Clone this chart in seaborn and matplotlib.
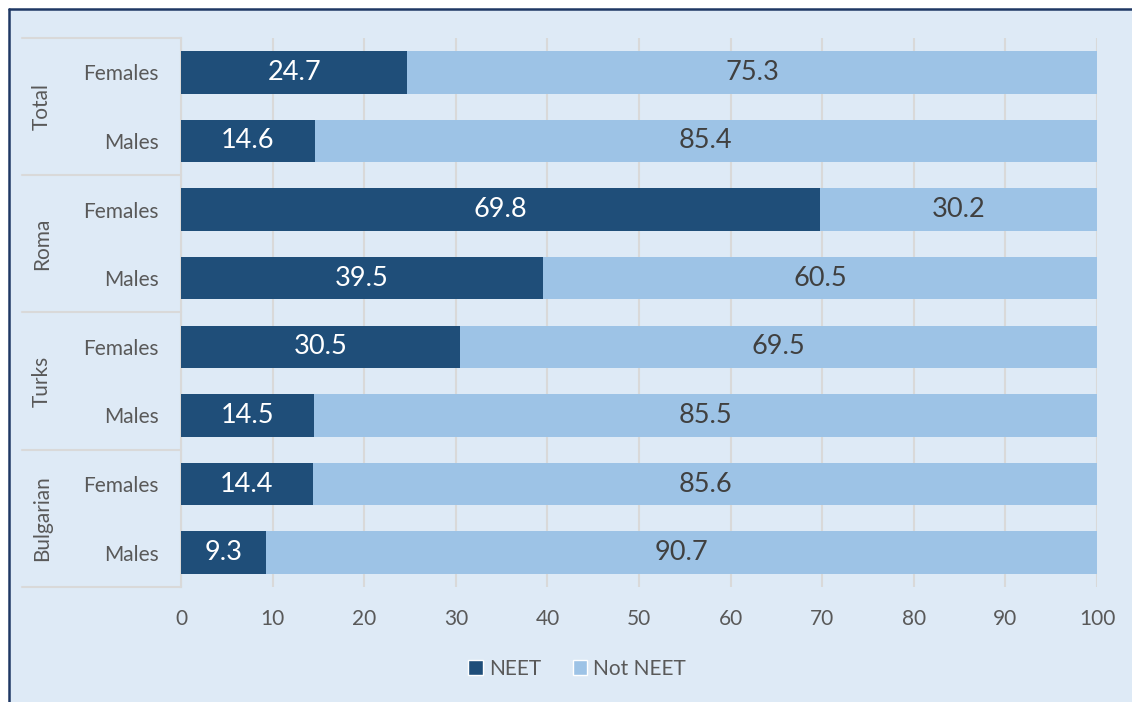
import matplotlib
matplotlib.use("Agg")
import matplotlib.pyplot as plt
import matplotlib.transforms as mtransforms
from matplotlib.patches import Patch, Rectangle
from matplotlib.lines import Line2D
import seaborn as sns
import pandas as pd

groups = ["Total", "Roma", "Turks", "Bulgarian"]
sexes = ["Females", "Males"]
neet = [24.7, 14.6, 69.8, 39.5, 30.5, 14.5, 14.4, 9.3]
not_neet = [75.3, 85.4, 30.2, 60.5, 69.5, 85.5, 85.6, 90.7]

rows = [f"{g} {s}" for g in groups for s in sexes]
df = pd.DataFrame({"row": rows, "NEET": neet, "Not NEET": not_neet})
df["total"] = df["NEET"] + df["Not NEET"]

BG = "#DEEAF6"
DARK = "#1F4E79"
LIGHT = "#9DC3E6"
GRAY = "#595959"
GRID = "#D9D9D9"
BORDER = "#1F3864"

sns.set_theme(style="white")
plt.rcParams["font.family"] = ["Lato", "DejaVu Sans"]

fig = plt.figure(figsize=(11.32, 7.02), dpi=100, facecolor="white")
x0 = 8.5 / 1132
y1 = 1 - 8.5 / 702
fig.patches.append(Rectangle((x0, 0), 1 - x0, y1, transform=fig.transFigure,
                             facecolor=BG, edgecolor="none", zorder=-10))
fig.lines.append(Line2D([x0, x0], [0, y1], transform=fig.transFigure,
                        color=BORDER, lw=1.8))
fig.lines.append(Line2D([x0, 1], [y1, y1], transform=fig.transFigure,
                        color=BORDER, lw=1.8))

ax = fig.add_axes([0.1599, 0.1638, 0.8092, 0.7821])
ax.set_facecolor(BG)

sns.barplot(data=df, y="row", x="total", order=rows, color=LIGHT, width=0.62,
            saturation=1, ax=ax, orient="h", zorder=2, linewidth=0)
sns.barplot(data=df, y="row", x="NEET", order=rows, color=DARK, width=0.62,
            saturation=1, ax=ax, orient="h", zorder=3, linewidth=0)

for i, (a, b) in enumerate(zip(df["NEET"], df["Not NEET"])):
    ax.text(a / 2, i, f"{a:.1f}", ha="center", va="center", color="white",
            fontsize=19.5, zorder=4)
    ax.text(a + b / 2, i, f"{b:.1f}", ha="center", va="center", color="#404040",
            fontsize=19.5, zorder=4)

ax.set_xlim(0, 100)
ax.set_ylim(7.5, -0.5)
ax.set_xticks(range(0, 101, 10))
ax.tick_params(axis="x", colors=GRAY, labelsize=15, length=0, pad=16)
ax.tick_params(axis="y", colors=GRAY, labelsize=15, length=0, pad=16)
ax.set_yticks(range(len(rows)))
ax.set_yticklabels([s for g in groups for s in sexes])
ax.set_xlabel("")
ax.set_ylabel("")
ax.grid(axis="x", color=GRID, linewidth=1.5, zorder=0)
ax.set_axisbelow(True)
for side in ["top", "right", "bottom"]:
    ax.spines[side].set_visible(False)
ax.spines["left"].set_color(GRID)
ax.spines["left"].set_linewidth(1.5)

trans = mtransforms.blended_transform_factory(ax.transAxes, ax.transData)
for yb in [-0.5, 1.5, 3.5, 5.5, 7.5]:
    ax.plot([-0.174, 0], [yb, yb], color=GRID, lw=1.5, transform=trans,
            clip_on=False)
for k, g in enumerate(groups):
    ax.text(-0.152, 2 * k + 0.5, g, rotation=90, ha="center", va="center",
            color=GRAY, fontsize=15, transform=trans)

handles = [Patch(facecolor=DARK, label="NEET"), Patch(facecolor=LIGHT, label="Not NEET")]
fig.legend(handles=handles, loc="center", bbox_to_anchor=(0.51, 0.047), ncol=2,
           frameon=False, fontsize=15, labelcolor=GRAY, handlelength=0.7,
           handleheight=0.7, handletextpad=0.3, columnspacing=1.5)

fig.savefig("out.png", dpi=100, facecolor="white")
